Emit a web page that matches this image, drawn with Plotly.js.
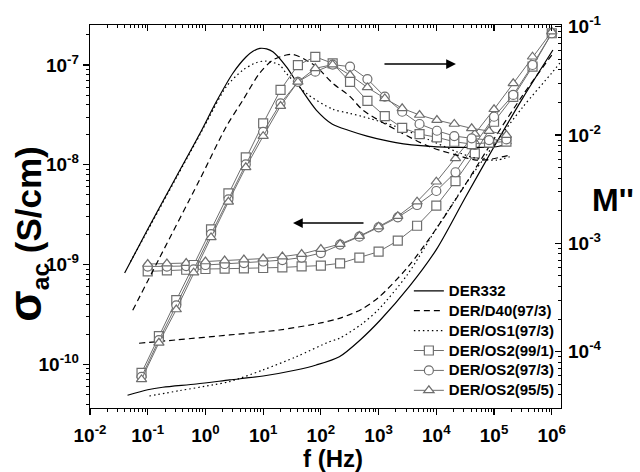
<!DOCTYPE html>
<html><head><meta charset="utf-8">
<script src="https://cdn.plot.ly/plotly-3.0.1.min.js"></script>
<style>html,body{margin:0;padding:0;background:#fff}#chart{width:640px;height:472px}</style>
</head><body><div id="chart"></div>
<script>
// ---------- data ----------
// sigma_ac of the OS2 samples: frequency grid (Hz)
const fSigma = [0.1, 0.215, 0.464, 1, 2.15, 4.64, 10, 21.5, 46.4, 100, 215, 464, 1000, 2150, 4640, 10000, 21500, 46400, 100000, 215000, 464000, 1000000];
const sigmaOS2_99_1 = [8.53e-10, 8.73e-10, 8.87e-10, 9.02e-10, 9.08e-10, 9.14e-10, 9.23e-10, 9.35e-10, 9.57e-10, 9.77e-10, 1.028e-9, 1.172e-9, 1.346e-9, 1.734e-9, 2.449e-9, 3.89e-9, 6.87e-9, 1.303e-8, 2.70e-8, 4.79e-8, 9.62e-8, 2.08e-7];
const sigmaOS2_97_3 = [9.55e-10, 9.55e-10, 9.66e-10, 9.89e-10, 1.012e-9, 1.035e-9, 1.072e-9, 1.109e-9, 1.175e-9, 1.303e-9, 1.585e-9, 1.901e-9, 2.36e-9, 2.97e-9, 3.95e-9, 5.46e-9, 8.41e-9, 1.585e-8, 3.03e-8, 5.01e-8, 1.0e-7, 2.08e-7];
const sigmaOS2_95_5 = [1.012e-9, 1.023e-9, 1.035e-9, 1.072e-9, 1.096e-9, 1.122e-9, 1.148e-9, 1.202e-9, 1.274e-9, 1.429e-9, 1.603e-9, 1.928e-9, 2.40e-9, 3.05e-9, 4.27e-9, 6.76e-9, 1.161e-8, 2.04e-8, 3.60e-8, 6.55e-8, 1.21e-7, 2.16e-7];

// M'' of the OS2 samples: frequency grid (Hz)
const fModulus = [0.078125, 0.15625, 0.3125, 0.625, 1.25, 2.5, 5, 10, 20, 40, 80, 160, 320, 640, 1280, 2560, 5120, 10240, 20480, 40960, 81920, 163840];
const mOS2_99_1 = [6.37e-5, 1.393e-4, 2.99e-4, 6.31e-4, 1.346e-3, 2.90e-3, 6.22e-3, 1.282e-2, 2.61e-2, 4.43e-2, 5.28e-2, 4.59e-2, 3.10e-2, 2.07e-2, 1.496e-2, 1.167e-2, 1.021e-2, 9.53e-3, 8.67e-3, 8.26e-3, 8.51e-3, 8.71e-3];
const mOS2_97_3 = [5.86e-5, 1.279e-4, 2.68e-4, 5.75e-4, 1.219e-3, 2.55e-3, 5.37e-3, 1.072e-2, 1.963e-2, 3.10e-2, 3.85e-2, 4.47e-2, 4.28e-2, 3.29e-2, 2.26e-2, 1.641e-2, 1.265e-2, 1.096e-2, 9.79e-3, 9.33e-3, 8.99e-3, 9.12e-3];
const mOS2_95_5 = [5.55e-5, 1.208e-4, 2.45e-4, 5.37e-4, 1.135e-3, 2.42e-3, 5.04e-3, 9.77e-3, 1.853e-2, 3.10e-2, 4.13e-2, 4.47e-2, 3.58e-2, 2.75e-2, 2.18e-2, 1.766e-2, 1.531e-2, 1.374e-2, 1.265e-2, 1.153e-2, 1.089e-2, 1.0e-2];

// continuous curves: sigma_ac
const fDER332s = [0.0447, 0.1, 0.182, 0.692, 2.63, 10, 37.2, 83.2, 209, 479, 1072, 3388, 10000, 31600, 100000, 316000, 1047000];
const sDER332 = [4.90e-11, 5.56e-11, 5.89e-11, 6.35e-11, 6.97e-11, 7.64e-11, 8.77e-11, 9.84e-11, 1.191e-10, 1.754e-10, 2.78e-10, 6.0e-10, 1.413e-9, 4.68e-9, 1.514e-8, 4.68e-8, 1.413e-7];
const fD40s = [0.0708, 0.316, 2.63, 19.05, 100, 209, 501, 1000, 3162, 10000, 31620, 100000, 316200, 1000000];
const sD40 = [1.626e-10, 1.758e-10, 1.968e-10, 2.208e-10, 2.60e-10, 2.89e-10, 3.55e-10, 4.68e-10, 9.33e-10, 2.29e-9, 6.31e-9, 1.82e-8, 5.01e-8, 1.259e-7];
const fOS1s = [0.107, 0.359, 1.343, 2.618, 9.886, 37.5, 141.6, 210.9, 501, 1000, 3162, 10000, 31620, 100000, 316200, 1000000, 1380000];
const sOS1 = [4.81e-11, 5.45e-11, 6.21e-11, 6.70e-11, 8.77e-11, 1.191e-10, 1.687e-10, 1.824e-10, 2.51e-10, 3.55e-10, 7.94e-10, 2.29e-9, 6.31e-9, 1.585e-8, 3.80e-8, 8.32e-8, 1.047e-7];

// continuous curves: M''
const fDER332m = [0.0398, 0.1, 0.316, 0.794, 1.549, 2.985, 5.09, 6.76, 8.79, 11.48, 14.72, 25.1, 42.8, 83.2, 158.5, 316, 631, 1995, 7943, 28840, 109600, 199500];
const mDER332 = [5.32e-4, 1.349e-3, 4.17e-3, 1.023e-2, 2.04e-2, 3.72e-2, 5.28e-2, 5.96e-2, 6.31e-2, 6.24e-2, 5.87e-2, 4.28e-2, 2.79e-2, 1.702e-2, 1.259e-2, 1.096e-2, 9.77e-3, 8.51e-3, 7.85e-3, 7.69e-3, 7.80e-3, 8.38e-3];
const fD40m = [0.055, 0.158, 0.791, 2.29, 4.45, 8.67, 14.72, 25.1, 31.6, 42.8, 83.2, 161.4, 314, 534.6, 2028, 7656, 22390, 48980, 83180, 186200];
const mD40 = [2.41e-4, 7.24e-4, 3.85e-3, 1.194e-2, 2.10e-2, 3.72e-2, 4.93e-2, 5.48e-2, 5.56e-2, 5.28e-2, 4.28e-2, 3.0e-2, 2.29e-2, 1.698e-2, 1.112e-2, 7.80e-3, 6.53e-3, 5.87e-3, 5.96e-3, 6.53e-3];
const fOS1m = [0.0501, 0.1, 0.316, 0.794, 1.175, 2.29, 4.45, 7.59, 11.22, 19.23, 25.1, 55.8, 158.5, 316, 537, 2028, 7656, 22390, 48980, 109600, 186200];
const mOS1 = [6.76e-4, 1.318e-3, 4.07e-3, 1.0e-2, 1.479e-2, 2.79e-2, 3.98e-2, 4.66e-2, 4.82e-2, 4.43e-2, 3.72e-2, 2.43e-2, 1.738e-2, 1.585e-2, 1.479e-2, 1.194e-2, 8.99e-3, 7.02e-3, 6.10e-3, 5.87e-3, 6.31e-3];

const seriesNames = ['DER332', 'DER/D40(97/3)', 'DER/OS1(97/3)', 'DER/OS2(99/1)', 'DER/OS2(97/3)', 'DER/OS2(95/5)'];

// tick labels
const xTickVals = [0.01, 0.1, 1, 10, 100, 1000, 10000, 100000, 1000000];
const xTickText = ['10<sup>-2</sup>', '10<sup>-1</sup>', '10<sup>0</sup>', '10<sup>1</sup>', '10<sup>2</sup>', '10<sup>3</sup>', '10<sup>4</sup>', '10<sup>5</sup>', '10<sup>6</sup>'];
const yLeftTickVals = [1e-10, 1e-9, 1e-8, 1e-7];
const yLeftTickText = ['10<sup>-10</sup>', '10<sup>-9</sup>', '10<sup>-8</sup>', '10<sup>-7</sup>'];
const yRightTickVals = [1e-4, 1e-3, 1e-2, 1e-1];
const yRightTickText = ['10<sup>-4</sup>', '10<sup>-3</sup>', '10<sup>-2</sup>', '10<sup>-1</sup>'];

// ---------- styling ----------
const FONT = 'Liberation Sans, Arial, Helvetica, sans-serif';
const GREY = '#6e6e6e';

function minorVals(e0, e1) {
  const out = [];
  for (let e = e0; e <= e1; e++) for (let d = 2; d <= 9; d++) out.push(d * Math.pow(10, e));
  return out;
}
function tf() { return {family: FONT, size: 19, color: '#000', weight: 'bold'}; }
function legName(s) { return '<span style="font-size:15px">' + s + '</span>'; }

function curve(name, x, y, axis, dash, show) {
  return {type: 'scatter', mode: 'lines', name: legName(name), legendgroup: name, showlegend: show,
    x: x, y: y, yaxis: axis, line: {color: '#000', width: 1.2, dash: dash, shape: 'spline', smoothing: 0.8},
    hoverinfo: 'skip'};
}
function marks(name, x, y, axis, symbol, show) {
  return {type: 'scatter', mode: 'lines+markers', name: legName(name), legendgroup: name, showlegend: show,
    x: x, y: y, yaxis: axis, line: {color: GREY, width: 1},
    marker: {symbol: symbol, size: 9, color: '#fff', line: {color: GREY, width: 1.2}},
    hoverinfo: 'skip'};
}

const traces = [
  curve(seriesNames[0], fDER332s, sDER332, 'y', 'solid', true),
  curve(seriesNames[0], fDER332m, mDER332, 'y2', 'solid', false),
  curve(seriesNames[1], fD40s, sD40, 'y', '6px,4px', true),
  curve(seriesNames[1], fD40m, mD40, 'y2', '6px,4px', false),
  curve(seriesNames[2], fOS1s, sOS1, 'y', '1.5px,3px', true),
  curve(seriesNames[2], fOS1m, mOS1, 'y2', '1.5px,3px', false),
  marks(seriesNames[3], fSigma, sigmaOS2_99_1, 'y', 'square', true),
  marks(seriesNames[3], fModulus, mOS2_99_1, 'y2', 'square', false),
  marks(seriesNames[4], fSigma, sigmaOS2_97_3, 'y', 'circle', true),
  marks(seriesNames[4], fModulus, mOS2_97_3, 'y2', 'circle', false),
  marks(seriesNames[5], fSigma, sigmaOS2_95_5, 'y', 'triangle-up', true),
  marks(seriesNames[5], fModulus, mOS2_95_5, 'y2', 'triangle-up', false),
  {type: 'scatter', x: [], y: [], xaxis: 'x2', yaxis: 'y', showlegend: false, hoverinfo: 'skip'}
];

const xRange = [-2.0, 6.16];

const layout = {
  width: 640, height: 472,
  margin: {l: 90, r: 79, t: 25, b: 64, pad: 0},
  paper_bgcolor: '#fff', plot_bgcolor: '#fff',
  font: {family: FONT, size: 19, color: '#000', weight: 'bold'},
  showlegend: true,
  xaxis: {type: 'log', range: xRange, tickmode: 'array', tickvals: xTickVals, ticktext: xTickText,
    ticks: 'outside', ticklen: 6, tickwidth: 1.2, tickcolor: '#000', ticklabelstandoff: 4,
    minor: {tickmode: 'array', tickvals: minorVals(-2, 6), ticks: 'outside', ticklen: 3, tickwidth: 1, tickcolor: '#000', showgrid: false},
    showline: true, linewidth: 1.3, linecolor: '#000', mirror: true, showgrid: false, zeroline: false,
    tickfont: tf()},
  xaxis2: {type: 'log', range: xRange, overlaying: 'x', side: 'top', anchor: 'y',
    tickmode: 'array', tickvals: xTickVals, showticklabels: false,
    ticks: 'inside', ticklen: 6, tickwidth: 1.2, tickcolor: '#000',
    minor: {tickmode: 'array', tickvals: minorVals(-2, 6), ticks: 'inside', ticklen: 3, tickwidth: 1, tickcolor: '#000', showgrid: false},
    showline: false, showgrid: false, zeroline: false},
  yaxis: {type: 'log', range: [-10.438, -6.599], tickmode: 'array', tickvals: yLeftTickVals, ticktext: yLeftTickText,
    ticks: 'outside', ticklen: 6, tickwidth: 1.2, tickcolor: '#000',
    minor: {tickmode: 'array', tickvals: minorVals(-11, -7), ticks: 'outside', ticklen: 3, tickwidth: 1, tickcolor: '#000', showgrid: false},
    showline: true, linewidth: 1.3, linecolor: '#000', mirror: true, showgrid: false, zeroline: false,
    tickfont: tf()},
  yaxis2: {type: 'log', range: [-4.52, -0.984], overlaying: 'y', side: 'right', anchor: 'x',
    tickmode: 'array', tickvals: yRightTickVals, ticktext: yRightTickText,
    ticks: 'inside', ticklen: 6, tickwidth: 1.2, tickcolor: '#000',
    minor: {tickmode: 'array', tickvals: minorVals(-5, -1), ticks: 'inside', ticklen: 3, tickwidth: 1, tickcolor: '#000', showgrid: false},
    showline: false, showgrid: false, zeroline: false, ticklabelstandoff: 6,
    tickfont: tf()},
  legend: {x: 0.677, y: 0.345, xanchor: 'left', yanchor: 'top', bgcolor: 'rgba(0,0,0,0)', borderwidth: 0,
    font: {family: FONT, size: 13, color: '#000', weight: 'bold'}, tracegroupgap: 0},
  annotations: [
    {xref: 'paper', yref: 'paper', x: -0.136, y: 0.455, xanchor: 'center', yanchor: 'middle', showarrow: false, textangle: -90,
      text: '<span style="font-size:46px">σ</span><sub>ac</sub> (S/cm)',
      font: {family: FONT, size: 35, color: '#000', weight: 'bold'}},
    {xref: 'paper', yref: 'paper', x: 1.11, y: 0.543, xanchor: 'center', yanchor: 'middle', showarrow: false, text: "M''",
      font: {family: FONT, size: 32, color: '#000', weight: 'bold'}},
    {xref: 'paper', yref: 'paper', x: 0.516, y: -0.133, xanchor: 'center', yanchor: 'middle', showarrow: false, text: 'f (Hz)',
      font: {family: FONT, size: 24, color: '#000', weight: 'bold'}},
    {xref: 'paper', yref: 'paper', x: 0.777, y: 0.898, ax: -73, ay: 0, text: '', showarrow: true,
      arrowhead: 2, arrowsize: 1.3, arrowwidth: 1.5, arrowcolor: '#000'},
    {xref: 'paper', yref: 'paper', x: 0.431, y: 0.483, ax: 72, ay: 0, text: '', showarrow: true,
      arrowhead: 2, arrowsize: 1.3, arrowwidth: 1.5, arrowcolor: '#000'}
  ]
};

Plotly.newPlot('chart', traces, layout, {staticPlot: true, displayModeBar: false});
</script></body></html>
